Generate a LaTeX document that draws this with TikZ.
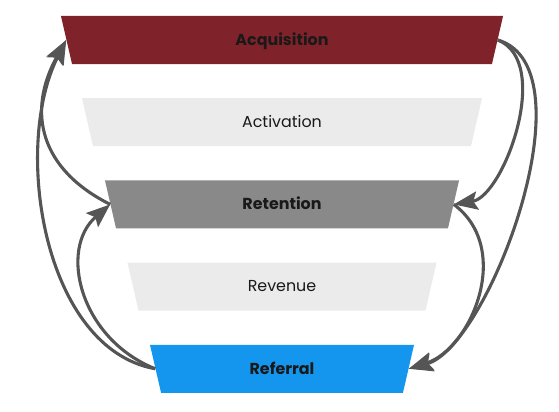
\documentclass[tikz,border=0pt]{standalone}
\usepackage{fontspec}
\setmainfont{Poppins}
\usepackage{xcolor}
\usetikzlibrary{arrows.meta,positioning,shapes.geometric}

\definecolor{acqred}{RGB}{128,34,41}
\definecolor{lightgray}{RGB}{235,235,235}
\definecolor{midgray}{RGB}{137,137,137}
\definecolor{refblue}{RGB}{21,150,238}
\definecolor{arrgray}{RGB}{85,85,85}

\begin{document}
\begin{tikzpicture}[x=0.025cm, y=-0.025cm,
  stage/.style={trapezium, trapezium angle=77, shape border rotate=180,
                trapezium stretches body, inner sep=0pt,
                text height=0.6cm+3.8pt, text depth=0.6cm-3.8pt,
                font=\fontsize{11.3}{13}\selectfont, text=black!90},
  key/.style={stage, font=\fontsize{11.3}{13}\selectfont\bfseries},
  arr/.style={line width=2.2pt, draw=arrgray,
              -{Stealth[length=17pt, width=13pt, inset=3pt]}},
  node distance=0.84cm
]
\useasboundingbox (0,0) rectangle (559,412);

\node[key, fill=acqred, minimum width=11.05cm] (acq) at (282,40) {Acquisition};
\node[stage, fill=lightgray, minimum width=10cm, below=of acq] (act) {Activation};
\node[key, fill=midgray, minimum width=8.85cm, below=of act] (ret) {Retention};
\node[stage, fill=lightgray, minimum width=7.725cm, below=of ret] (rev) {Revenue};
\node[key, fill=refblue, minimum width=6.6cm, below=of rev] (ref) {Referral};

% left side loops
\draw[arr] (ret.west) .. controls +(-70,-35) and +(-40,72) .. (acq.west);
\draw[arr] (ref.west) .. controls +(-112,-20) and +(-54,107) .. (acq.west);
\draw[arr] (ref.west) .. controls +(-75,-30) and +(-52,45) .. (ret.west);

% right side loops
\draw[arr] (acq.east) .. controls +(55,22) and +(50,-8) .. (ret.east);
\draw[arr] (acq.east) .. controls +(95,28) and +(80,-22) .. (ref.east);
\draw[arr] (ret.east) .. controls +(60,45) and +(62,-20) .. (ref.east);
\end{tikzpicture}
\end{document}
